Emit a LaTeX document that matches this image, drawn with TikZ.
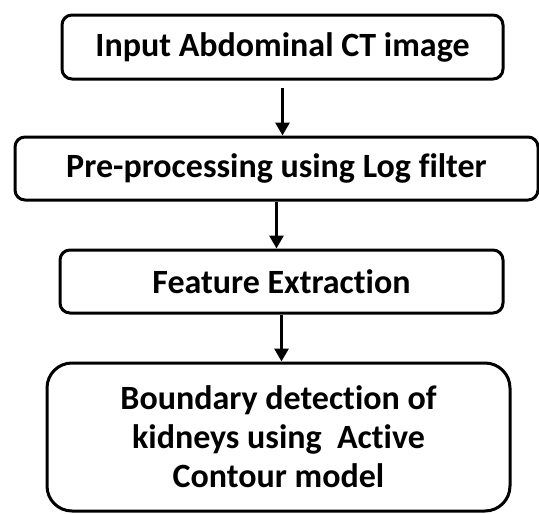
\documentclass[tikz,border=0pt]{standalone}
\usepackage{fontspec}
\setmainfont[Ligatures=NoCommon]{Carlito}
\usetikzlibrary{arrows.meta,positioning}
\tikzset{stepbox/.style={rectangle,draw,line width=3pt,rounded corners=10pt,inner sep=0pt,font=\fontsize{34}{39}\selectfont\bfseries},
         flow/.style={line width=3pt,-{Triangle[length=13pt,width=14pt]}}}

\begin{document}
\begin{tikzpicture}[x=1pt,y=-1pt]
    \useasboundingbox (0,0) rectangle (539,514);
    \node[stepbox,minimum width=441pt,minimum height=64pt] (input) at (282.5,47) {Input Abdominal CT image};
    \node[stepbox,minimum width=523pt,minimum height=63pt] (prep) at (276.5,168.5) {Pre-processing using Log filter};
    \node[stepbox,minimum width=443pt,minimum height=63pt] (feat) at (281.5,281.5) {Feature Extraction};
    \node[stepbox,minimum width=463pt,minimum height=148pt,rounded corners=25pt,align=center] (bound) at (278.5,437) {Boundary detection of\\kidneys using\ \ Active\\Contour model};

    \draw [flow] ([yshift=-7pt]input.south) to (input.south |- prep.north);
    \draw [flow] (prep.south) to (prep.south |- feat.north);
    \draw [flow] (feat.south) to (feat.south |- bound.north);
\end{tikzpicture}
\end{document}
